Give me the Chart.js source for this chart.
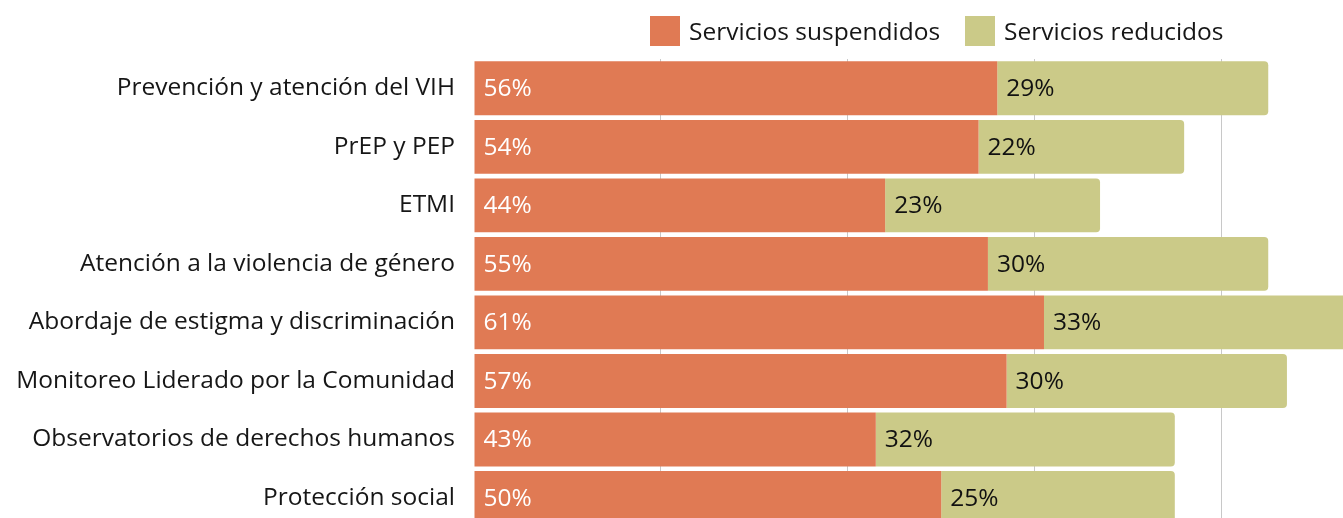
<!DOCTYPE html>
<html lang="es">
<head>
    <meta charset="UTF-8">
    <title>Servicios suspendidos y reducidos</title>
    <script src="https://cdn.jsdelivr.net/npm/chart.js"></script>
    <style>
        body {
            margin: 0;
            overflow: hidden;
            background: #fff;
            font-family: "Open Sans", "Noto Sans", sans-serif;
        }
        .wrap {
            position: relative;
            width: 1343px;
            height: 561px;
        }
        .legend {
            position: absolute;
            top: 16px;
            left: 650px;
            display: flex;
            align-items: center;
            font-size: 24.5px;
            line-height: 30px;
            color: #161616;
        }
        .legend span.box {
            display: inline-block;
            width: 30px;
            height: 30px;
            margin-right: 9px;
        }
        .legend .item {
            display: flex;
            align-items: center;
            margin-right: 25px;
        }
        canvas {
            position: absolute;
            top: 0;
            left: 0;
        }
    </style>
</head>
<body>
<div class="wrap">
    <canvas id="myChart" width="1343" height="561"></canvas>
    <div class="legend">
        <div class="item"><span class="box" style="background:#e07a54"></span>Servicios suspendidos</div>
        <div class="item"><span class="box" style="background:#cbca88"></span>Servicios reducidos</div>
    </div>
</div>

<script>
    const categorias = [
        "Prevención y atención del VIH",
        "PrEP y PEP",
        "ETMI",
        "Atención a la violencia de género",
        "Abordaje de estigma y discriminación",
        "Monitoreo Liderado por la Comunidad",
        "Observatorios de derechos humanos",
        "Protección social"
    ];
    const suspendidos = [56, 54, 44, 55, 61, 57, 43, 50];
    const reducidos = [29, 22, 23, 30, 33, 30, 32, 25];
    const xMax = 93;

    const fuente = '"Open Sans", "Noto Sans", sans-serif';

    // porcentajes dentro de cada barra
    const etiquetas = {
        id: 'etiquetas',
        afterDatasetsDraw(chart) {
            const ctx = chart.ctx;
            ctx.save();
            ctx.font = '24.5px ' + fuente;
            ctx.textBaseline = 'middle';
            ctx.textAlign = 'left';
            chart.data.datasets.forEach((ds, i) => {
                const meta = chart.getDatasetMeta(i);
                ctx.fillStyle = i === 0 ? '#ffffff' : '#111111';
                meta.data.forEach((bar, j) => {
                    const start = Math.min(bar.base, bar.x);
                    ctx.fillText(ds.data[j] + '%', start + 9, bar.y + 1);
                });
            });
            ctx.restore();
        }
    };

    const config = {
        type: 'bar',
        data: {
            labels: categorias,
            datasets: [
                {
                    label: 'Servicios suspendidos',
                    data: suspendidos,
                    backgroundColor: '#e07a54',
                    barPercentage: 0.92,
                    categoryPercentage: 1
                },
                {
                    label: 'Servicios reducidos',
                    data: reducidos,
                    backgroundColor: '#cbca88',
                    borderRadius: { topRight: 4, bottomRight: 4 },
                    borderSkipped: false,
                    barPercentage: 0.92,
                    categoryPercentage: 1
                }
            ]
        },
        options: {
            indexAxis: 'y',
            responsive: false,
            animation: false,
            layout: { padding: { top: 59, left: 0, right: 0, bottom: 0 } },
            plugins: {
                legend: { display: false },
                tooltip: { enabled: false }
            },
            scales: {
                x: {
                    stacked: true,
                    min: 0,
                    max: xMax,
                    ticks: { display: false, stepSize: 20 },
                    border: { display: false },
                    grid: {
                        drawTicks: false,
                        color: (c) => (c.tick && c.tick.value > 0 && c.tick.value % 20 === 0) ? '#c8c8c8' : 'rgba(0,0,0,0)'
                    },
                    afterFit: (scale) => { scale.height = 12; }
                },
                y: {
                    stacked: true,
                    grid: { display: false, drawTicks: false },
                    border: { display: false },
                    ticks: {
                        padding: 19,
                        color: '#161616',
                        font: { family: fuente, size: 24.5 }
                    },
                    afterFit: (scale) => { scale.width = 474; }
                }
            }
        },
        plugins: [etiquetas]
    };

    const myChart = new Chart(document.getElementById('myChart'), config);
</script>
</body>
</html>
